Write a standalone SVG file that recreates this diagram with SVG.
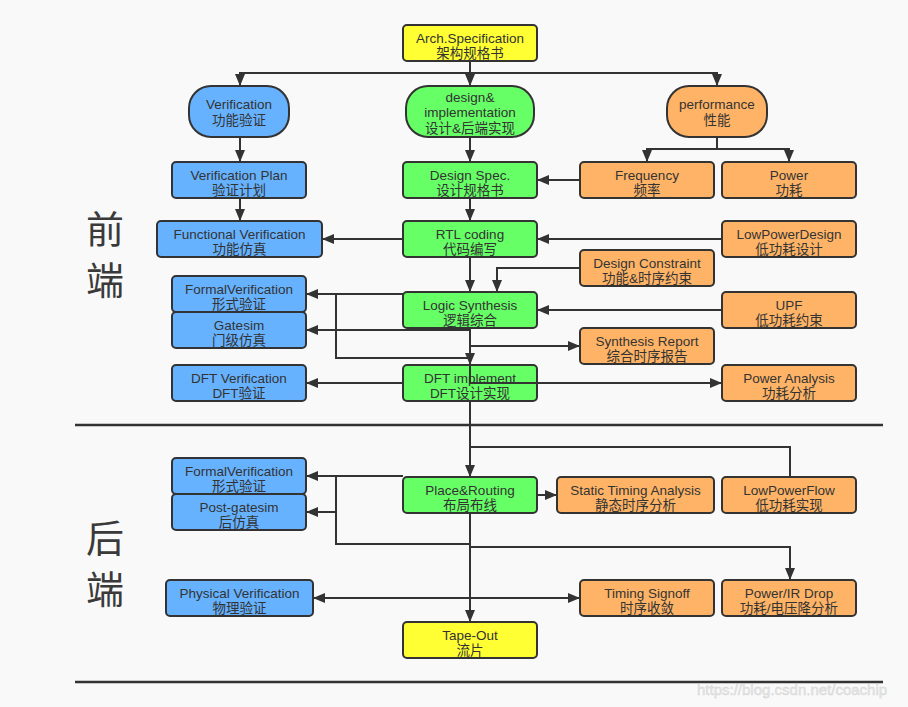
<svg xmlns="http://www.w3.org/2000/svg" width="908" height="707" viewBox="0 0 908 707">
<defs>
<style>
.n{stroke:#333;stroke-width:2}
.y{fill:#ffff33}.g{fill:#66ff66}.b{fill:#66b2ff}.o{fill:#ffb366}
.t{font-family:"Liberation Sans","Noto Sans CJK SC",sans-serif;font-size:13.5px;fill:#333;text-anchor:middle}
.c{fill:none;stroke:#333;stroke-width:2}
.side{font-family:"Noto Sans CJK SC",sans-serif;font-size:38px;fill:#3a3a3a;text-anchor:middle}
</style>
<marker id="a" markerUnits="userSpaceOnUse" markerWidth="12" markerHeight="10" refX="12" refY="5" orient="auto">
<path d="M0,0 L12,5 L0,10 z" fill="#333"/>
</marker>
<marker id="s" markerUnits="userSpaceOnUse" markerWidth="12" markerHeight="10" refX="0" refY="5" orient="auto">
<path d="M12,0 L0,5 L12,10 z" fill="#333"/>
</marker>
</defs>
<rect width="908" height="707" fill="#f9f9f9"/>

<g id="connectors-under">
<path class="c" d="M470,73 H240 V86" marker-end="url(#a)"/>
<path class="c" d="M470,73 H717 V86" marker-end="url(#a)"/>
<path class="c" d="M470,61 V86" marker-end="url(#a)"/>
<path class="c" d="M240,137 V162" marker-end="url(#a)"/>
<path class="c" d="M240,198 V221" marker-end="url(#a)"/>
<path class="c" d="M470,137 V162" marker-end="url(#a)"/>
<path class="c" d="M717,137 V149 H647 V162" marker-end="url(#a)"/>
<path class="c" d="M717,149 H789 V162" marker-end="url(#a)"/>
<path class="c" d="M580,180 H537" marker-end="url(#a)"/>
<path class="c" d="M470,198 V221" marker-end="url(#a)"/>
<path class="c" d="M403,239 H322" marker-end="url(#a)"/>
<path class="c" d="M722,239 H537" marker-end="url(#a)"/>
<path class="c" d="M470,257 V292" marker-end="url(#a)"/>
<path class="c" d="M580,268 H497 V292" marker-end="url(#a)"/>
<path class="c" d="M403,294 H306" marker-end="url(#a)"/>
<path class="c" d="M722,310 H537" marker-end="url(#a)"/>
<path class="c" d="M470,330 H306" marker-end="url(#a)"/>
<path class="c" d="M470,346 H580" marker-end="url(#a)"/>
<path class="c" d="M470,358 H336 V294"/>
<path class="c" d="M470,328 V365" marker-end="url(#a)"/>
<path class="c" d="M403,383 H306" marker-end="url(#a)"/>
<path class="c" d="M470,401 V477" marker-end="url(#a)"/>
<path class="c" d="M790,477 V447 H470"/>
<path class="c" d="M403,476 H306" marker-end="url(#a)"/>
<path class="c" d="M336,476 V544 H470"/>
<path class="c" d="M336,512 H306" marker-end="url(#a)"/>
<path class="c" d="M537,495 H557" marker-end="url(#a)"/>
<path class="c" d="M470,547 H790 V580" marker-end="url(#a)"/>
<path class="c" d="M470,513 V622" marker-end="url(#a)"/>
<path class="c" d="M313,598 H580" marker-start="url(#s)" marker-end="url(#a)"/>
</g>

<g id="separators">
<path d="M75,425 H883" stroke="#333" stroke-width="2.5"/>
<path d="M75,682 H883" stroke="#333" stroke-width="2.5"/>
</g>

<g id="side-labels">
<text class="side" x="105" y="243">前</text>
<text class="side" x="105" y="294">端</text>
<text class="side" x="105" y="552">后</text>
<text class="side" x="105" y="603">端</text>
</g>

<g id="arch"><rect class="n y" x="403" y="25" width="134" height="36" rx="4"/><text class="t" x="470" y="42.5">Arch.Specification</text><text class="t" x="470" y="57.5">架构规格书</text></g>
<g id="verification"><rect class="n b" x="189" y="86" width="100" height="51" rx="22"/><text class="t" x="239" y="109">Verification</text><text class="t" x="239" y="125">功能验证</text></g>
<g id="design"><rect class="n g" x="406" y="86" width="128" height="51" rx="22"/><text class="t" x="470" y="101.5">design&amp;</text><text class="t" x="470" y="117">implementation</text><text class="t" x="470" y="132.5">设计&amp;后端实现</text></g>
<g id="performance"><rect class="n o" x="667" y="86" width="100" height="51" rx="22"/><text class="t" x="717" y="109">performance</text><text class="t" x="717" y="125">性能</text></g>

<g id="verif-plan"><rect class="n b" x="172" y="162" width="134" height="36" rx="4"/><text class="t" x="239" y="179.5">Verification Plan</text><text class="t" x="239" y="194.5">验证计划</text></g>
<g id="design-spec"><rect class="n g" x="403" y="162" width="134" height="36" rx="4"/><text class="t" x="470" y="179.5">Design Spec.</text><text class="t" x="470" y="194.5">设计规格书</text></g>
<g id="frequency"><rect class="n o" x="580" y="162" width="134" height="36" rx="4"/><text class="t" x="647" y="179.5">Frequency</text><text class="t" x="647" y="194.5">频率</text></g>
<g id="power"><rect class="n o" x="722" y="162" width="134" height="36" rx="4"/><text class="t" x="789" y="179.5">Power</text><text class="t" x="789" y="194.5">功耗</text></g>

<g id="func-verif"><rect class="n b" x="157" y="221" width="165" height="36" rx="4"/><text class="t" x="239.5" y="238.5">Functional Verification</text><text class="t" x="239.5" y="253.5">功能仿真</text></g>
<g id="rtl"><rect class="n g" x="403" y="221" width="134" height="36" rx="4"/><text class="t" x="470" y="238.5">RTL coding</text><text class="t" x="470" y="253.5">代码编写</text></g>
<g id="lowpowerdesign"><rect class="n o" x="722" y="221" width="134" height="36" rx="4"/><text class="t" x="789" y="238.5">LowPowerDesign</text><text class="t" x="789" y="253.5">低功耗设计</text></g>
<g id="design-constraint"><rect class="n o" x="580" y="250" width="134" height="36" rx="4"/><text class="t" x="647" y="267.5">Design Constraint</text><text class="t" x="647" y="282.5">功能&amp;时序约束</text></g>

<g id="formal-front"><rect class="n b" x="172" y="276" width="134" height="36" rx="4"/><text class="t" x="239" y="293.5">FormalVerification</text><text class="t" x="239" y="308.5">形式验证</text></g>
<g id="gatesim"><rect class="n b" x="172" y="312" width="134" height="36" rx="4"/><text class="t" x="239" y="329.5">Gatesim</text><text class="t" x="239" y="344.5">门级仿真</text></g>
<g id="logic-synthesis"><rect class="n g" x="403" y="292" width="134" height="36" rx="4"/><text class="t" x="470" y="309.5">Logic Synthesis</text><text class="t" x="470" y="324.5">逻辑综合</text></g>
<g id="upf"><rect class="n o" x="722" y="292" width="134" height="36" rx="4"/><text class="t" x="789" y="309.5">UPF</text><text class="t" x="789" y="324.5">低功耗约束</text></g>
<g id="synth-report"><rect class="n o" x="580" y="328" width="134" height="36" rx="4"/><text class="t" x="647" y="345.5">Synthesis Report</text><text class="t" x="647" y="360.5">综合时序报告</text></g>

<g id="dft-verif"><rect class="n b" x="172" y="365" width="134" height="36" rx="4"/><text class="t" x="239" y="382.5">DFT Verification</text><text class="t" x="239" y="397.5">DFT验证</text></g>
<g id="dft-impl"><rect class="n g" x="403" y="365" width="134" height="36" rx="4"/><text class="t" x="470" y="382.5">DFT implement</text><text class="t" x="470" y="397.5">DFT设计实现</text></g>
<g id="power-analysis"><rect class="n o" x="722" y="365" width="134" height="36" rx="4"/><text class="t" x="789" y="382.5">Power Analysis</text><text class="t" x="789" y="397.5">功耗分析</text></g>

<g id="formal-back"><rect class="n b" x="172" y="458" width="134" height="36" rx="4"/><text class="t" x="239" y="475.5">FormalVerification</text><text class="t" x="239" y="490.5">形式验证</text></g>
<g id="post-gatesim"><rect class="n b" x="172" y="494" width="134" height="36" rx="4"/><text class="t" x="239" y="511.5">Post-gatesim</text><text class="t" x="239" y="526.5">后仿真</text></g>
<g id="place-routing"><rect class="n g" x="403" y="477" width="134" height="36" rx="4"/><text class="t" x="470" y="494.5">Place&amp;Routing</text><text class="t" x="470" y="509.5">布局布线</text></g>
<g id="sta"><rect class="n o" x="557" y="477" width="157" height="36" rx="4"/><text class="t" x="635.5" y="494.5">Static Timing Analysis</text><text class="t" x="635.5" y="509.5">静态时序分析</text></g>
<g id="lowpowerflow"><rect class="n o" x="722" y="477" width="134" height="36" rx="4"/><text class="t" x="789" y="494.5">LowPowerFlow</text><text class="t" x="789" y="509.5">低功耗实现</text></g>

<g id="physical-verif"><rect class="n b" x="166" y="580" width="147" height="36" rx="4"/><text class="t" x="239.5" y="597.5">Physical Verification</text><text class="t" x="239.5" y="612.5">物理验证</text></g>
<g id="timing-signoff"><rect class="n o" x="580" y="580" width="134" height="36" rx="4"/><text class="t" x="647" y="597.5">Timing Signoff</text><text class="t" x="647" y="612.5">时序收敛</text></g>
<g id="power-ir"><rect class="n o" x="722" y="580" width="134" height="36" rx="4"/><text class="t" x="789" y="597.5">Power/IR Drop</text><text class="t" x="789" y="612.5">功耗/电压降分析</text></g>
<g id="tape-out"><rect class="n y" x="403" y="622" width="134" height="36" rx="4"/><text class="t" x="470" y="639.5">Tape-Out</text><text class="t" x="470" y="654.5">流片</text></g>

<g id="connectors-over">
<path class="c" d="M470,365 V383 H722" marker-end="url(#a)"/>
</g>

<text x="697" y="695" font-family="Liberation Sans,sans-serif" font-size="15" fill="#e6e6e6" stroke="#d2d2d2" stroke-width="0.4">https://blog.csdn.net/coachip</text>
</svg>
